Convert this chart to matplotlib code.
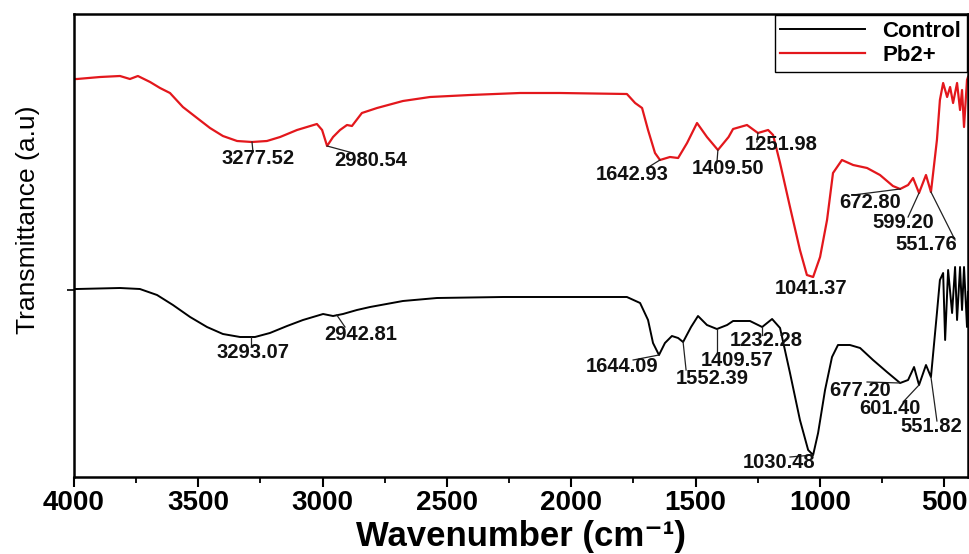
import numpy as np
import matplotlib
matplotlib.use('Agg')
import matplotlib.pyplot as plt

plt.rcParams['font.family'] = ['Liberation Sans', 'DejaVu Sans']

# Pb2+ spectrum (wavenumber, transmittance a.u.)
wn_pb = [4000, 3988, 3895, 3815, 3775, 3743, 3694, 3654, 3614, 3562, 3505,
         3453, 3401, 3344, 3284, 3224, 3171, 3103, 3023, 3002, 2982, 2958,
         2930, 2902, 2882, 2842, 2781, 2677, 2568, 2407, 2206, 2045, 1776,
         1743, 1715, 1691, 1663, 1643, 1603, 1570, 1534, 1494, 1454, 1410,
         1367, 1349, 1293, 1249, 1208, 1188, 1160, 1120, 1080, 1052, 1027,
         999, 971, 947, 911, 866, 810, 758, 706, 677, 645, 625, 601, 573,
         553, 529, 517, 504, 488, 476, 464, 448, 436, 428, 420, 408, 404]
tr_pb = [398, 398, 400, 401, 398, 401, 395, 389, 384, 370, 359,
         349, 341, 336, 335, 336, 340, 347, 353, 347, 331, 340,
         347, 352, 351, 364, 369, 376, 380, 382, 384, 384, 383,
         374, 369, 347, 324, 317, 320, 319, 334, 354, 340, 327,
         340, 348, 352, 344, 347, 342, 314, 270, 227, 202, 200,
         220, 257, 304, 317, 312, 309, 302, 291, 288, 292, 299, 284, 302,
         285, 337, 377, 394, 380, 390, 374, 394, 367, 387, 350, 397, 400]

# Control spectrum
wn_ctrl = [4000, 3988, 3815, 3735, 3666, 3602, 3533, 3465, 3401, 3332, 3272,
           3212, 3143, 3079, 2998, 2958, 2918, 2862, 2809, 2677, 2540, 2274,
           2045, 1776, 1723, 1691, 1671, 1647, 1623, 1595, 1570, 1550, 1518,
           1490, 1454, 1414, 1373, 1349, 1281, 1232, 1192, 1160, 1120, 1080,
           1047, 1027, 1007, 979, 951, 927, 879, 838, 786, 730, 677, 645, 621,
           601, 573, 553, 529, 517, 504, 496, 484, 468, 456, 448, 436, 428,
           420, 408, 404]
tr_ctrl = [188, 188, 189, 188, 182, 172, 160, 150, 143, 140, 140,
           144, 151, 157, 163, 161, 163, 167, 170, 176, 179, 180,
           180, 180, 174, 157, 134, 122, 134, 141, 139, 135, 150,
           161, 152, 148, 152, 156, 156, 150, 158, 149, 104, 57,
           27, 22, 44, 87, 120, 132, 132, 129, 117, 105, 94, 97, 110,
           92, 112, 100, 164, 197, 204, 137, 207, 164, 210, 157, 210, 167,
           210, 150, 185]

# peak labels: text, text position, leader start (on curve), leader end
labels_pb = [
    ('3277.52', (3260, 318), (3284, 335), (3280, 325)),
    ('2980.54', (2805, 317), (2982, 331), (2878, 324)),
    ('1642.93', (1755, 303), (1643, 317), (1695, 309)),
    ('1409.50', (1369, 308), (1410, 327), (1414, 314)),
    ('1251.98', (1156, 333), (1249, 344), (1253, 335)),
    ('1041.37', (1035, 188), None, None),
    ('672.80', (798, 274), (677, 288), (866, 282)),
    ('599.20', (665, 254), (601, 284), (645, 260)),
    ('551.76', (573, 233), (553, 285), (456, 237)),
]
labels_ctrl = [
    ('3293.07', (3280, 125), (3290, 140), (3290, 131)),
    ('2942.81', (2846, 143), (2943, 162), (2910, 150)),
    ('1644.09', (1796, 110), (1647, 122), (1751, 117)),
    ('1552.39', (1434, 99), (1550, 135), (1538, 107)),
    ('1409.57', (1333, 116), (1414, 148), (1414, 125)),
    ('1232.28', (1216, 136), (1232, 150), (1232, 142)),
    ('1030.48', (1164, 14), (1027, 22), (1120, 20)),
    ('677.20', (838, 86), (677, 94), (810, 95)),
    ('601.40', (718, 69), (601, 92), (665, 75)),
    ('551.82', (553, 51), (553, 100), (529, 56)),
]

fig = plt.figure(figsize=(9.7, 5.54), dpi=100)
ax = fig.add_axes([74/970, 1-477/554, (968-74)/970, (477-14)/554])

ax.plot(wn_ctrl, tr_ctrl, color='black', lw=1.4, label='Control')
ax.plot(wn_pb, tr_pb, color='#e3171c', lw=1.6, label='Pb2+')

for lab in labels_pb + labels_ctrl:
    txt, (tx, ty), p0, p1 = lab
    ax.text(tx, ty, txt, ha='center', va='center', fontsize=14.5,
            fontweight='bold', color='#111111')
    if p0 is not None:
        ax.plot([p0[0], p1[0]], [p0[1], p1[1]], color='#222222', lw=0.9)

ax.set_xlim(4000, 404)
ax.set_ylim(0, 463)
ax.set_xticks(np.arange(4000, 400, -500))
ax.set_xticks(np.arange(3750, 400, -500), minor=True)
ax.set_yticks([187])
ax.set_yticklabels([])
ax.tick_params(axis='x', which='major', direction='out', length=7, width=1.5,
               labelsize=20, pad=2)
ax.tick_params(axis='x', which='minor', direction='out', length=4, width=1.3)
ax.tick_params(axis='y', direction='out', length=5, width=1.2)
for t in ax.get_xticklabels():
    t.set_fontweight('bold')
for s in ax.spines.values():
    s.set_linewidth(1.8)

ax.set_xlabel('Wavenumber (cm\u207b\u00b9)', fontsize=25, fontweight='bold',
              labelpad=3)
ax.set_ylabel('Transmittance (a.u)', fontsize=19)
ax.yaxis.set_label_coords(-0.038, 0.555)

leg = ax.legend(loc='upper right', frameon=True, fancybox=False,
                edgecolor='black', handlelength=3.8, labelspacing=0.15,
                borderaxespad=0.05, borderpad=0.25, handletextpad=0.8,
                prop={'weight': 'bold', 'size': 16})
leg.get_frame().set_linewidth(1.0)
leg.get_frame().set_alpha(1)

fig.savefig('out.png', dpi=100)
